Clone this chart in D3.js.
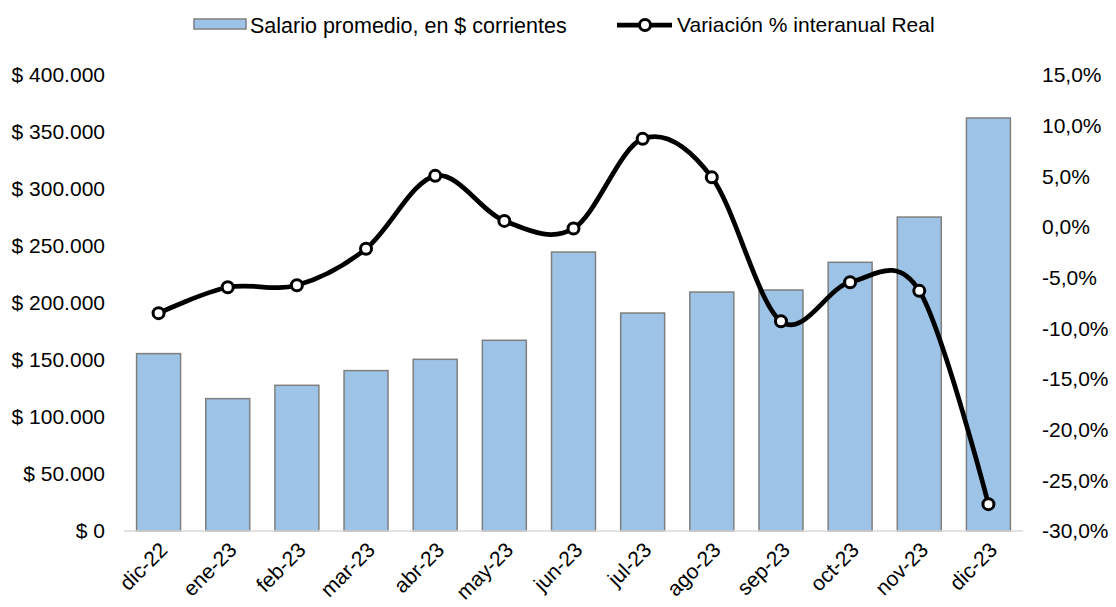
<!DOCTYPE html>
<html>
<head>
<meta charset="utf-8">
<script src="https://cdn.jsdelivr.net/npm/d3@7"></script>
<style>
  body { margin: 0; background: #fff; }
  text { font-family: "Liberation Sans", Arial, sans-serif; fill: #000; }
</style>
</head>
<body>
<div id="chart"></div>
<script>
// data
var months = ["dic-22", "ene-23", "feb-23", "mar-23", "abr-23", "may-23", "jun-23",
  "jul-23", "ago-23", "sep-23", "oct-23", "nov-23", "dic-23"];
var salario = [155600, 116100, 127800, 140700, 150600, 167300, 244700,
  191200, 209600, 211400, 235700, 275400, 362300];
var variacion = [-8.5, -5.95, -5.75, -2.15, 5.05, 0.6, -0.15,
  8.7, 4.9, -9.3, -5.45, -6.3, -27.35];
var leftTicks = [0, 50000, 100000, 150000, 200000, 250000, 300000, 350000, 400000];
var rightTicks = [-30, -25, -20, -15, -10, -5, 0, 5, 10, 15];

var width = 1116, height = 607;
var margin = {top: 75, right: 93, bottom: 76, left: 124};
var fs = "21px";

var svg = d3.select("#chart").append("svg")
  .attr("width", width).attr("height", height);

var x = d3.scaleBand().domain(months)
  .range([margin.left, width - margin.right])
  .paddingInner(0.364).paddingOuter(0.182);

var yL = d3.scaleLinear().domain([0, 400000])
  .range([height - margin.bottom, margin.top]);
var yR = d3.scaleLinear().domain([-30, 15])
  .range([height - margin.bottom, margin.top]);

// number formats in spanish style
var fmtMoney = function (v) {
  return "$ " + d3.format(",")(v).replace(/,/g, ".");
};
var fmtPct = function (v) {
  return d3.format(".1f")(v).replace(".", ",").replace("−", "-") + "%";
};

// bars
svg.append("g").selectAll("rect").data(salario).enter().append("rect")
  .attr("x", function (d, i) { return x(months[i]); })
  .attr("y", function (d) { return yL(d); })
  .attr("width", x.bandwidth())
  .attr("height", function (d) { return yL(0) - yL(d); })
  .attr("fill", "#9dc3e6")
  .attr("stroke", "#7f7f7f")
  .attr("stroke-width", 1.5);

// baseline
svg.append("line")
  .attr("x1", margin.left).attr("x2", width - margin.right)
  .attr("y1", yL(0)).attr("y2", yL(0))
  .attr("stroke", "#d9d9d9").attr("stroke-width", 1.5);

// left axis
var axL = svg.append("g")
  .attr("transform", "translate(105,0)")
  .call(d3.axisLeft(yL).tickValues(leftTicks).tickFormat(fmtMoney).tickSize(0).tickPadding(0));
axL.select(".domain").remove();
axL.selectAll("text").style("font-size", fs).style("font-family", "Liberation Sans, Arial, sans-serif");

// right axis
var axR = svg.append("g")
  .attr("transform", "translate(1042,0)")
  .call(d3.axisRight(yR).tickValues(rightTicks).tickFormat(fmtPct).tickSize(0).tickPadding(0));
axR.select(".domain").remove();
axR.selectAll("text").style("font-size", fs).style("font-family", "Liberation Sans, Arial, sans-serif");

// x labels
svg.append("g").selectAll("text").data(months).enter().append("text")
  .attr("transform", function (d) {
    return "translate(" + (x(d) + x.bandwidth() / 2 + 5) + "," + (yL(0) + 15) + ") rotate(-45)";
  })
  .attr("text-anchor", "end")
  .attr("dy", "0.35em")
  .style("font-size", fs)
  .text(function (d) { return d; });

// line
var line = d3.line()
  .x(function (d, i) { return x(months[i]) + x.bandwidth() / 2; })
  .y(function (d) { return yR(d); })
  .curve(d3.curveCardinal.tension(0));

svg.append("path").datum(variacion)
  .attr("d", line)
  .attr("fill", "none")
  .attr("stroke", "#000")
  .attr("stroke-width", 4.75);

svg.append("g").selectAll("circle").data(variacion).enter().append("circle")
  .attr("cx", function (d, i) { return x(months[i]) + x.bandwidth() / 2; })
  .attr("cy", function (d) { return yR(d); })
  .attr("r", 5.5)
  .attr("fill", "#fff")
  .attr("stroke", "#000")
  .attr("stroke-width", 3);

// legend
var leg = svg.append("g");
leg.append("rect")
  .attr("x", 194).attr("y", 19).attr("width", 52).attr("height", 10)
  .attr("fill", "#9dc3e6").attr("stroke", "#7f7f7f").attr("stroke-width", 1.5);
leg.append("text").attr("x", 250).attr("y", 25).attr("dy", "0.35em")
  .style("font-size", "21.5px").text("Salario promedio, en $ corrientes");
leg.append("line")
  .attr("x1", 617).attr("x2", 672).attr("y1", 25).attr("y2", 25)
  .attr("stroke", "#000").attr("stroke-width", 4.75);
leg.append("circle").attr("cx", 645).attr("cy", 25).attr("r", 5.5)
  .attr("fill", "#fff").attr("stroke", "#000").attr("stroke-width", 3);
leg.append("text").attr("x", 677).attr("y", 25).attr("dy", "0.35em")
  .style("font-size", "21px").text("Variación % interanual Real");
</script>
</body>
</html>
